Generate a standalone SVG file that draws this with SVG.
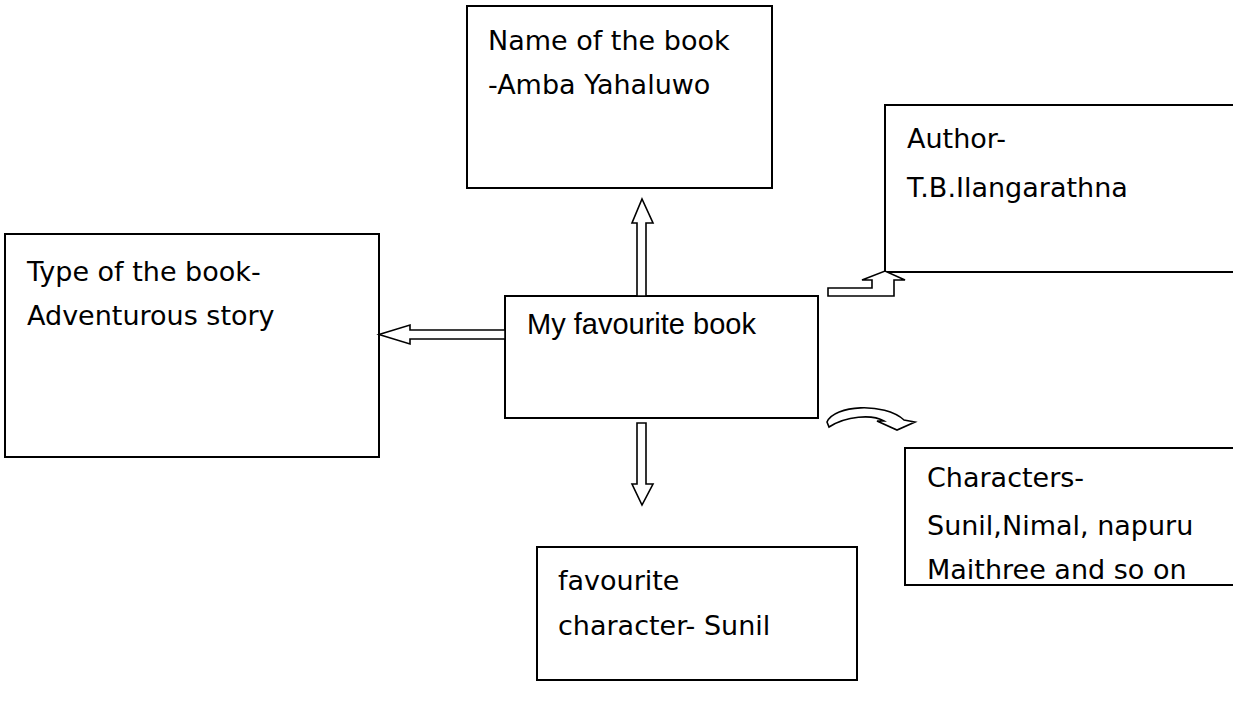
<svg xmlns="http://www.w3.org/2000/svg" width="1233" height="707" viewBox="0 0 1233 707">
<style>
.box{fill:#fff;stroke:#000;stroke-width:2}
.t{font-family:"DejaVu Sans",sans-serif;font-size:27px;fill:#000}
.a{font-family:"Liberation Sans",Arial,sans-serif;font-size:29px;fill:#000}
.arr{fill:#fff;stroke:#000;stroke-width:1.6;stroke-linejoin:miter}
</style>
<rect width="1233" height="707" fill="#fff"/>
<g id="name">
<rect class="box" x="467" y="6" width="305" height="182"/>
<text class="t" x="488" y="50">Name of the book</text>
<text class="t" x="488" y="94">-Amba Yahaluwo</text>
</g>
<g id="author">
<rect class="box" x="885" y="105" width="400" height="167"/>
<text class="t" x="907" y="148">Author-</text>
<text class="t" x="907" y="197">T.B.Ilangarathna</text>
</g>
<g id="type">
<rect class="box" x="5" y="234" width="374" height="223"/>
<text class="t" x="27" y="281">Type of the book-</text>
<text class="t" x="27" y="325">Adventurous story</text>
</g>
<g id="center">
<rect class="box" x="505" y="296" width="313" height="122"/>
<text class="a" x="527" y="334">My favourite book</text>
</g>
<g id="characters">
<rect class="box" x="905" y="448" width="400" height="137"/>
<text class="t" x="927" y="487">Characters-</text>
<text class="t" x="927" y="535">Sunil,Nimal, napuru</text>
<text class="t" x="927" y="579">Maithree and so on</text>
</g>
<g id="favourite">
<rect class="box" x="537" y="547" width="320" height="133"/>
<text class="t" x="558" y="590">favourite</text>
<text class="t" x="558" y="635">character- Sunil</text>
</g>
<g id="connectors">
<polygon class="arr" points="505,330 410,330 410,325 379,334.5 410,344 410,339 505,339"/>
<polygon class="arr" points="637,296 637,223 632,223 642,199 653,223 646,223 646,296"/>
<polygon class="arr" points="637,423 646,423 646,484 653,484 642,505 632,484 637,484"/>
<polygon class="arr" points="828,288 872,288 872,280 862,280 885,271 905,280 894,280 894,296 828,296"/>
<path class="arr" d="M827,422 C834,405 884,402 904,420 L915,422 L897,430 L877,421 L884,421 C872,414 846,416 829,427 Z"/>
</g>
</svg>
